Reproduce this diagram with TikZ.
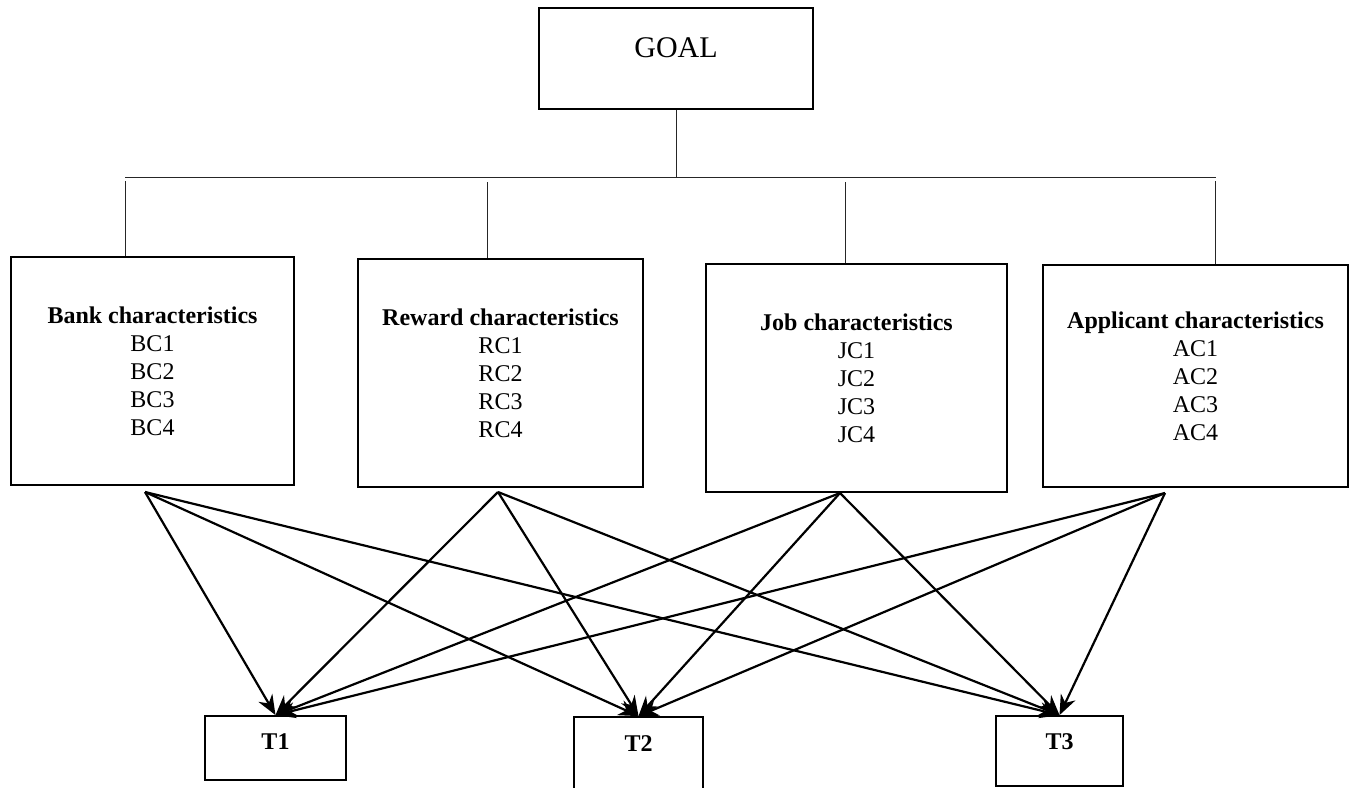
\documentclass[tikz,border=0pt]{standalone}
\usepackage{fontspec}
\setmainfont{Liberation Serif}
\usetikzlibrary{arrows.meta, positioning, calc}

\tikzset{
  box/.style={draw, line width=0.9pt, inner sep=0pt, align=center,
              font=\fontsize{12}{14}\selectfont},
  tbox/.style={draw, line width=0.9pt, inner sep=0pt,
               font=\fontsize{12}{14}\selectfont\bfseries},
  thinline/.style={line width=0.5pt, black!85},
  arr/.style={->, line width=1.1pt},
  >={Stealth[length=10pt, width=8pt]}
}

\begin{document}
\begin{tikzpicture}[x=0.5pt, y=-0.5pt]
\useasboundingbox (0,0) rectangle (1354,787);

\node[box, minimum width=137pt, minimum height=50.5pt, text depth=10.5pt,
      font=\fontsize{15}{17}\selectfont] (goal) at (676,58.5) {GOAL};

\node[box, minimum width=141.5pt, minimum height=114pt] (bank) at (152.5,371)
     {\textbf{Bank characteristics}\\BC1\\BC2\\BC3\\BC4};
\node[box, minimum width=142.5pt, minimum height=114pt] (reward) at (500.5,373)
     {\textbf{Reward characteristics}\\RC1\\RC2\\RC3\\RC4};
\node[box, minimum width=150.5pt, minimum height=114pt] (job) at (856.5,378)
     {\textbf{Job characteristics}\\JC1\\JC2\\JC3\\JC4};
\node[box, minimum width=152.5pt, minimum height=111pt] (appl) at (1195.5,376)
     {\textbf{Applicant characteristics}\\AC1\\AC2\\AC3\\AC4};

\node[tbox, minimum width=70.5pt, minimum height=32pt, text depth=6.5pt] (t1) at (275.5,748) {T1};
\node[tbox, minimum width=64.5pt, minimum height=36pt, text depth=9pt] (t2) at (638.5,753) {T2};
\node[tbox, minimum width=63.5pt, minimum height=35pt, text depth=9.5pt] (t3) at (1059.5,751) {T3};

\coordinate (hub) at (676,177);
\coordinate (busl) at (125,177);
\coordinate (busr) at (1216,177);
\coordinate (d1) at (125,181);
\coordinate (d2) at (487,182);
\coordinate (d3) at (845,182);
\coordinate (d4) at (1215,181);

\draw[thinline] (goal.south) -- (hub);
\draw[thinline] (busl) -- (busr);
\draw[thinline] (d1) -- (d1 |- bank.north);
\draw[thinline] (d2) -- (d2 |- reward.north);
\draw[thinline] (d3) -- (d3 |- job.north);
\draw[thinline] (d4) -- (d4 |- appl.north);

\coordinate (bs) at (145,492);
\coordinate (rs) at (498,492);
\coordinate (js) at (840,493);
\coordinate (as) at (1165,493);

\foreach \s in {bs,rs,js,as}
  \foreach \t in {t1,t2,t3}
    \draw[arr] (\s) -- (\t.north);
\end{tikzpicture}
\end{document}
